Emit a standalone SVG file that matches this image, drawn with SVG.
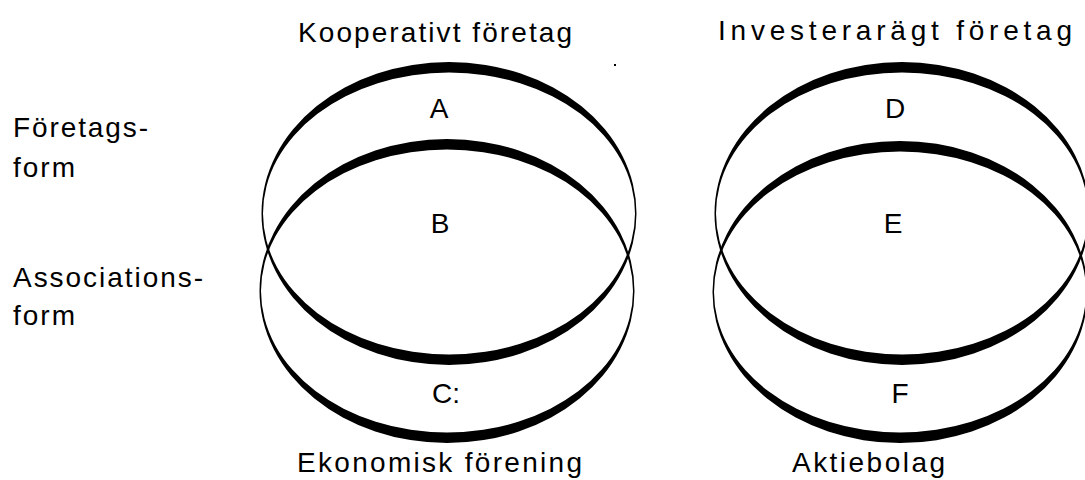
<svg xmlns="http://www.w3.org/2000/svg" width="1085" height="480" viewBox="0 0 1085 480">
<style>
.ring{fill:#000;fill-rule:evenodd;stroke:none}
.t{font-family:"Liberation Sans",Arial,sans-serif;font-size:28px;fill:#000}
.m{text-anchor:middle}
</style>
<rect width="1085" height="480" fill="#fff"/>
<g id="connectors"></g>
<g id="ellipse-koop-top">
<path class="ring" d="M261.5,213.5 a187.5,151.5 0 1,0 375,0 a187.5,151.5 0 1,0 -375,0 Z M263,213.5 a186,141 0 1,0 372,0 a186,141 0 1,0 -372,0 Z"/>
</g>
<g id="ellipse-koop-bottom">
<path class="ring" d="M259.5,291 a187.5,152 0 1,0 375,0 a187.5,152 0 1,0 -375,0 Z M261,291 a186,141.5 0 1,0 372,0 a186,141.5 0 1,0 -372,0 Z"/>
</g>
<g id="ellipse-inv-top">
<path class="ring" d="M714.5,213.5 a187.5,151.5 0 1,0 375,0 a187.5,151.5 0 1,0 -375,0 Z M716,213.5 a186,141 0 1,0 372,0 a186,141 0 1,0 -372,0 Z"/>
</g>
<g id="ellipse-inv-bottom">
<path class="ring" d="M712.5,292 a187.5,151 0 1,0 375,0 a187.5,151 0 1,0 -375,0 Z M714,292 a186,140.5 0 1,0 372,0 a186,140.5 0 1,0 -372,0 Z"/>
</g>
<rect x="614" y="64" width="2" height="2" fill="#000"/>
<g id="labels">
<text class="t" x="298" y="42" textLength="274" lengthAdjust="spacing">Kooperativt företag</text>
<text class="t" x="718" y="40" textLength="354" lengthAdjust="spacing">Investerarägt företag</text>
<text class="t" x="13" y="137" textLength="135" lengthAdjust="spacing">Företags-</text>
<text class="t" x="13" y="177" textLength="62" lengthAdjust="spacing">form</text>
<text class="t" x="13" y="287" textLength="190" lengthAdjust="spacing">Associations-</text>
<text class="t" x="13" y="325" textLength="62" lengthAdjust="spacing">form</text>
<text class="t" x="297" y="472" textLength="285" lengthAdjust="spacing">Ekonomisk förening</text>
<text class="t" x="792" y="472" textLength="153" lengthAdjust="spacing">Aktiebolag</text>
</g>
<g id="region-A"><text class="t m" x="439" y="118">A</text></g>
<g id="region-B"><text class="t m" x="440" y="233">B</text></g>
<g id="region-C"><text class="t" x="432" y="403">C:</text></g>
<g id="region-D"><text class="t m" x="895" y="118">D</text></g>
<g id="region-E"><text class="t m" x="893" y="233">E</text></g>
<g id="region-F"><text class="t m" x="900" y="403">F</text></g>
</svg>
